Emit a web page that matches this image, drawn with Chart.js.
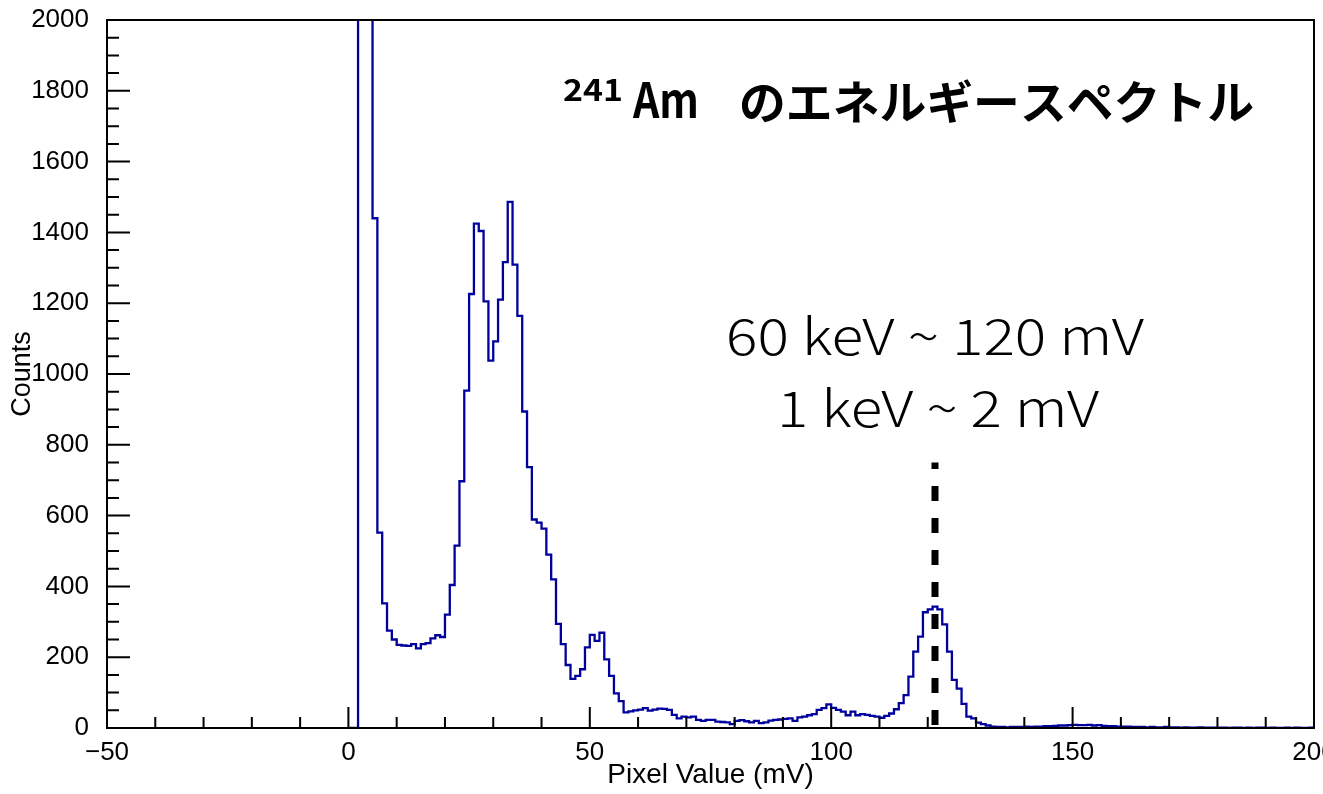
<!DOCTYPE html>
<html>
<head>
<meta charset="utf-8">
<script src="https://cdn.jsdelivr.net/npm/chart.js@4.4.1/dist/chart.umd.min.js"></script>
<style>
  html, body { margin: 0; padding: 0; background: #fff; }
  #wrap { width: 1323px; height: 794px; }
</style>
</head>
<body>
<div id="wrap"><canvas id="spectrum"></canvas></div>
<script>
// 241Am spectrum, 1 mV bins from 0 mV
const binStart = 0
const binWidth = 1
const counts = [
  0, 0, 6000, 5200, 3800, 1440, 552, 352, 275, 250,
  235, 233, 232, 237, 225, 237, 240, 253, 262, 257,
  320, 404, 515, 697, 953, 1226, 1425, 1404, 1205, 1038,
  1092, 1210, 1316, 1486, 1309, 1164, 894, 737, 589, 580,
  563, 490, 420, 294, 237, 178, 139, 147, 166, 228,
  263, 246, 269, 194, 147, 98, 76, 44, 47, 50,
  52, 56, 49, 52, 55, 54, 51, 37, 27, 32,
  30, 32, 23, 20, 23, 23, 18, 17, 16, 11,
  20, 22, 19, 16, 20, 14, 16, 21, 23, 24,
  26, 27, 20, 30, 32, 36, 39, 51, 56, 67,
  57, 51, 46, 36, 46, 36, 39, 37, 34, 32,
  29, 34, 41, 53, 70, 93, 145, 216, 258, 327,
  335, 343, 335, 293, 216, 136, 111, 68, 32, 27,
  15, 11, 7, 4, 3, 3, 2, 3, 3, 3,
  4, 3, 4, 4, 5, 5, 6, 7, 7, 8,
  9, 8, 8, 9, 7, 8, 6, 5, 5, 4,
  4, 4, 3, 3, 3, 2, 3, 2, 2, 3,
  2, 2, 1, 2, 1, 1, 2, 1, 1, 1,
  1, 1, 0, 1, 1, 0, 1, 0, 1, 1,
  0, 1, 0, 0, 1, 0, 1, 0, 0, 1
]

const xRange = [-50, 200]
const yRange = [0, 2000]
const xMajor = [-50, 0, 50, 100, 150, 200]
const xMinorStep = 10
const yMajorStep = 200
const yMinorStep = 50

// 60 keV line
const markerX = [121.5, 121.5]
const markerY = [0, 750]

const titleParts = ['241', 'Am', 'のエネルギースペクトル']
const noteLines = ['60 keV ~ 120 mV', '1 keV ~ 2 mV']

const histPoints = []
counts.forEach((c, i) => {
  histPoints.push({x: binStart + i * binWidth, y: c})
})
histPoints.push({x: binStart + counts.length * binWidth, y: counts[counts.length - 1]})

const markerPoints = markerX.map((x, i) => ({x: x, y: markerY[i]}))

function fitText(ctx, text, font, left, baseline, width){
  ctx.font = font
  const w = ctx.measureText(text).width
  ctx.save()
  ctx.translate(left, baseline)
  ctx.scale(width / w, 1)
  ctx.fillText(text, 0, 0)
  ctx.restore()
}

const rootFrame = {
  id: 'rootFrame',
  afterDatasetsDraw(chart){
    const {ctx, chartArea: a, scales: {x, y}} = chart
    ctx.save()
    ctx.strokeStyle = '#000'
    ctx.lineWidth = 2
    ctx.beginPath()
    for(let v = xRange[0]; v <= xRange[1]; v += xMinorStep){
      const px = x.getPixelForValue(v)
      const len = xMajor.includes(v) ? 21 : 11
      ctx.moveTo(px, a.bottom)
      ctx.lineTo(px, a.bottom - len)
    }
    for(let v = yRange[0]; v <= yRange[1]; v += yMinorStep){
      const py = y.getPixelForValue(v)
      const len = v % yMajorStep == 0 ? 23 : 12
      ctx.moveTo(a.left, py)
      ctx.lineTo(a.left + len, py)
    }
    ctx.stroke()
    ctx.strokeRect(a.left, a.top, a.width, a.height)
    ctx.restore()
  },
  afterDraw(chart){
    const ctx = chart.ctx
    ctx.save()
    ctx.fillStyle = '#000'
    ctx.textAlign = 'left'
    ctx.textBaseline = 'alphabetic'
    fitText(ctx, titleParts[0], 'bold 30px "Noto Sans CJK JP", sans-serif', 563, 101, 60)
    fitText(ctx, titleParts[1], 'bold 48px "Noto Sans CJK JP", sans-serif', 633, 118, 66)
    fitText(ctx, titleParts[2], 'bold 46px "Noto Sans CJK JP", sans-serif', 739, 119, 515)
    fitText(ctx, noteLines[0], '300 50px "Noto Sans CJK JP", Lato, sans-serif', 726, 355, 418)
    fitText(ctx, noteLines[1], '300 50px "Noto Sans CJK JP", Lato, sans-serif', 777, 427, 322)
    ctx.restore()
  }
}

const ctx = document.getElementById('spectrum').getContext('2d')
const chartSpectrum = new Chart(ctx, {
  type: 'line',
  data: {
    datasets: [
      {
        label: 'marker',
        data: markerPoints,
        borderColor: '#000',
        borderWidth: 7,
        borderDash: [15, 17],
        borderDashOffset: 29,
        borderCapStyle: 'butt',
        pointRadius: 0,
        fill: false,
        order: 0
      },
      {
        label: 'Counts',
        data: histPoints,
        stepped: 'before',
        borderColor: '#00009c',
        borderWidth: 2.3,
        pointRadius: 0,
        fill: false,
        order: 1
      }
    ]
  },
  options: {
    responsive: true,
    maintainAspectRatio: false,
    animation: false,
    events: [],
    layout: {padding: {top: 20, right: 9, left: 0, bottom: 0}},
    plugins: {
      legend: {display: false},
      tooltip: {enabled: false}
    },
    scales: {
      x: {
        type: 'linear',
        min: xRange[0],
        max: xRange[1],
        grid: {display: false},
        border: {display: false},
        ticks: {
          stepSize: 50,
          autoSkip: false,
          maxRotation: 0,
          padding: 1,
          color: '#000',
          font: {family: '"Liberation Sans", Arial, sans-serif', size: 26},
          callback: v => String(v).replace('-', '\u2212')
        },
        title: {
          display: true,
          text: 'Pixel Value (mV)',
          color: '#000',
          font: {family: '"Liberation Sans", Arial, sans-serif', size: 28},
          padding: {top: 0, bottom: 2}
        },
        afterFit(scale){
          scale.height = 66
          scale.paddingLeft = 0
          scale.paddingRight = 0
        }
      },
      y: {
        min: yRange[0],
        max: yRange[1],
        grid: {display: false},
        border: {display: false},
        ticks: {
          stepSize: yMajorStep,
          autoSkip: false,
          padding: 10,
          color: '#000',
          font: {family: '"Liberation Sans", Arial, sans-serif', size: 26},
          callback: v => String(v)
        },
        title: {
          display: true,
          text: 'Counts',
          color: '#000',
          font: {family: '"Liberation Sans", Arial, sans-serif', size: 27},
          padding: {top: 6, bottom: 0}
        },
        afterFit(scale){
          scale.width = 107
          scale.paddingTop = 0
          scale.paddingBottom = 0
        }
      }
    }
  },
  plugins: [rootFrame]
})
</script>
</body>
</html>
